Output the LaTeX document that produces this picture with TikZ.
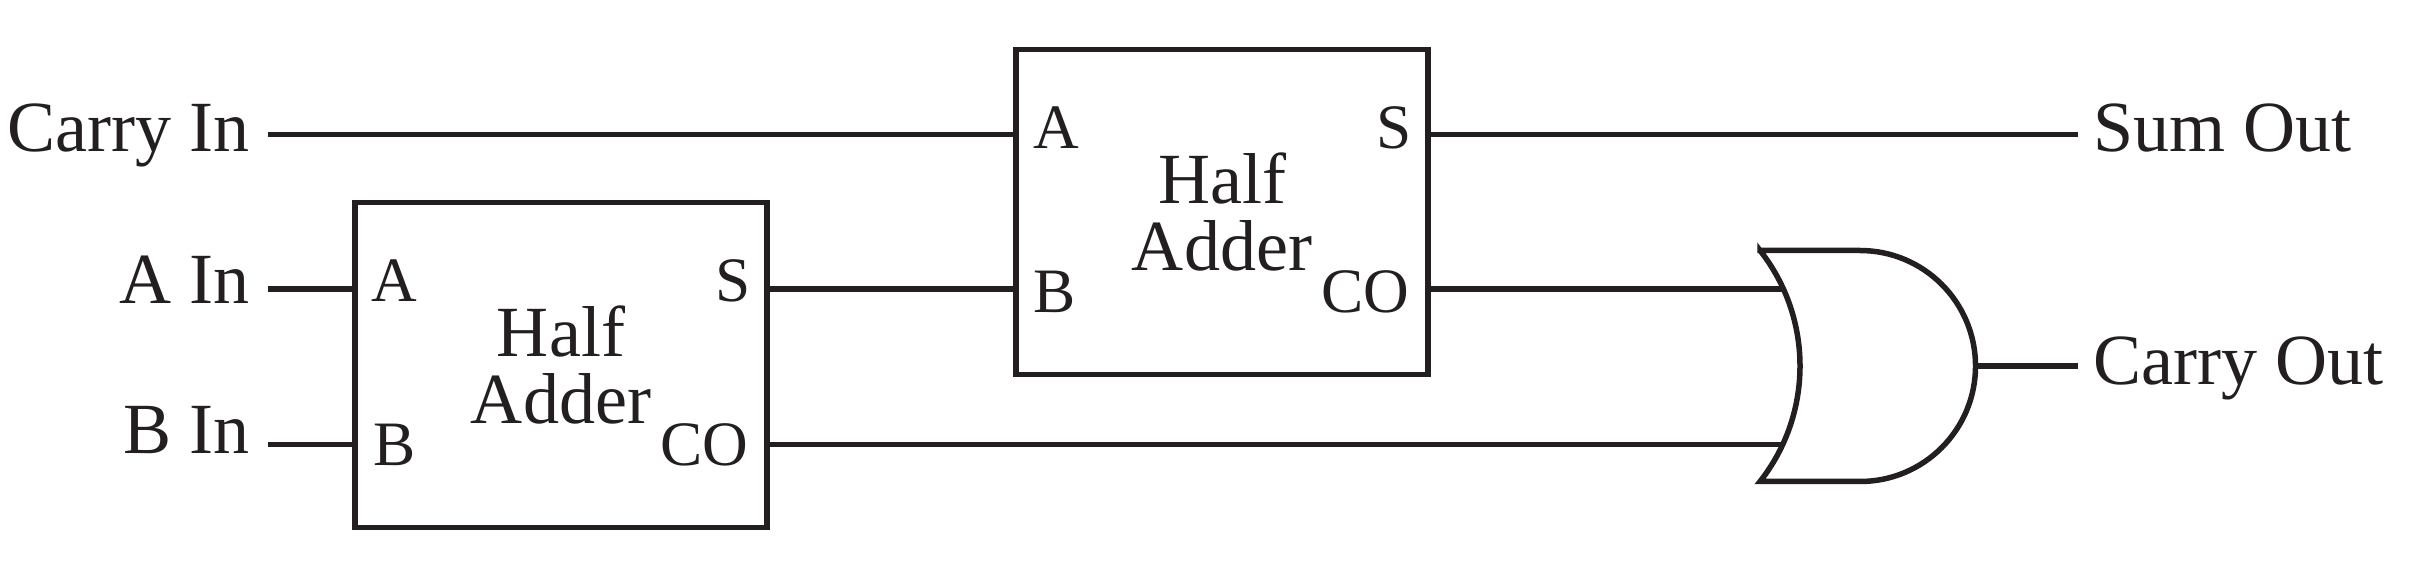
\documentclass[tikz,border=0pt]{standalone}
\usepackage{fontspec}
\setmainfont{Liberation Serif}
\definecolor{inkdark}{HTML}{231F20}
\begin{document}
\begin{tikzpicture}[
       line width=0.055cm, color=inkdark,
       box/.style={rectangle, draw=inkdark, minimum width=4.12cm, minimum height=3.25cm, align=center, inner sep=0pt, font=\fontsize{20.5}{19.3}\selectfont},
       lab/.style={inner sep=0pt, font=\fontsize{20.5}{24}\selectfont},
       port/.style={inner sep=0pt, font=\fontsize{18}{22}\selectfont},
       wire/.style={draw=inkdark, line width=0.055cm}
   ]
   \useasboundingbox (0,0) rectangle (24.28,5.6);
   \node[box] (halfa) at (5.61,1.95) {Half\\Adder};
   \node[box] (halfb) at (12.22,3.48) {Half\\Adder};

   % ports
   \node[port, anchor=base west] (halfaA) at (3.69,2.58) {A};
   \node[port, anchor=base west] (halfaB) at (3.71,0.95) {B};
   \node[port, anchor=base east] (halfaS) at (7.53,2.58) {S};
   \node[port, anchor=base east] (halfaCO) at (7.51,0.95) {CO};
   \node[port, anchor=base west] (halfbA) at (10.31,4.11) {A};
   \node[port, anchor=base west] (halfbB) at (10.31,2.47) {B};
   \node[port, anchor=base east] (halfbS) at (14.14,4.11) {S};
   \node[port, anchor=base east] (halfbCO) at (14.12,2.47) {CO};

   % signals
   \node[lab, anchor=base east] (carryin) at (2.52,4.08) {Carry In};
   \node[lab, anchor=base east] (ain) at (2.52,2.567) {A In};
   \node[lab, anchor=base east] (bin) at (2.52,1.06) {B In};
   \node[lab, anchor=base west] (sumout) at (20.91,4.08) {Sum Out};
   \node[lab, anchor=base west] (carryout) at (20.91,1.75) {Carry Out};
   \coordinate (carrystub) at (2.68,4.257);
   \coordinate (astub) at (2.68,2.71);
   \coordinate (bstub) at (2.68,1.155);
   \coordinate (sumstub) at (20.78,4.257);
   \coordinate (carryoutstub) at (20.78,1.94);

   % or gate
   \coordinate (orina) at (17.83,2.71);
   \coordinate (orinb) at (17.83,1.155);
   \coordinate (orout) at (19.74,1.94);
   \draw[wire] (17.60,3.095) -- (18.60,3.095) arc[start angle=90, end angle=-90, radius=1.155]
      -- (17.60,0.785) arc[start angle=-38.2, end angle=38.2, radius=1.868] -- cycle;

   \draw[wire] (carrystub) -- (carrystub -| halfb.west);
   \draw[wire] (astub) -- (astub -| halfa.west);
   \draw[wire] (bstub) -- (bstub -| halfa.west);
   \draw[wire] (astub -| halfa.east) -- (astub -| halfb.west);
   \draw[wire] (bstub -| halfa.east) -- (orinb);
   \draw[wire] (sumstub -| halfb.east) -- (sumstub);
   \draw[wire] (orina -| halfb.east) -- (orina);
   \draw[wire] (orout) -- (carryoutstub);
   \end{tikzpicture}
\end{document}
